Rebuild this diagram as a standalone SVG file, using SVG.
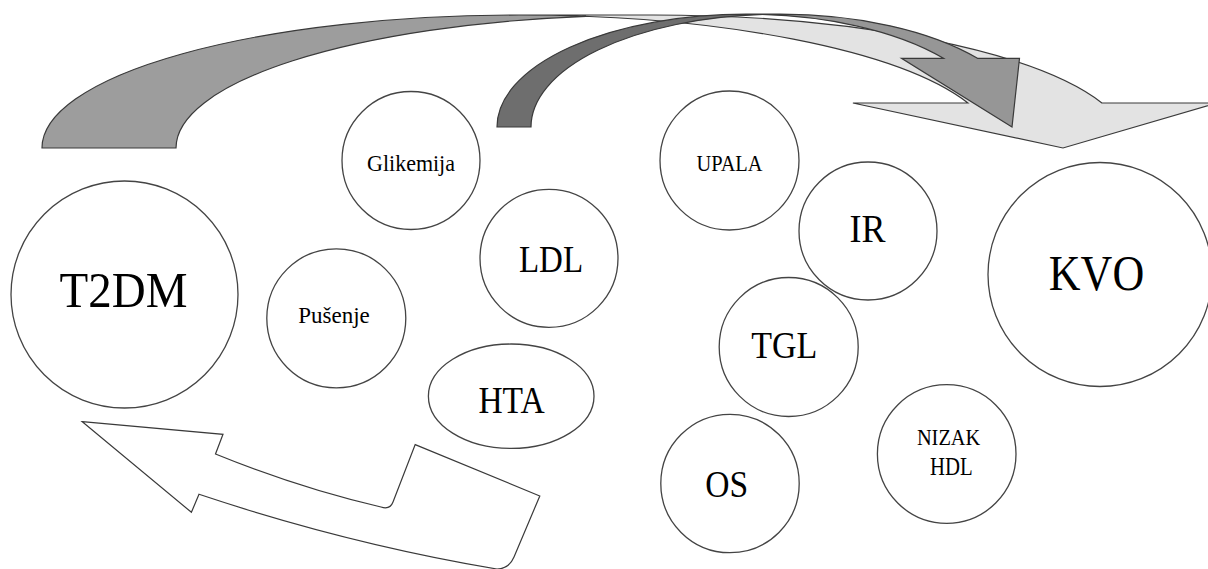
<svg xmlns="http://www.w3.org/2000/svg" width="1208" height="569" viewBox="0 0 1208 569">
  <style>
    .node { fill: #ffffff; stroke: #444444; stroke-width: 1.3; }
    .lbl { font-family: 'Liberation Serif', Tinos, 'Times New Roman', 'DejaVu Serif', 'Noto Serif', serif; fill: #000000; text-anchor: middle; }
    .fill-light { fill: #e3e3e3; stroke: none; }
    .fill-mid { fill: #9d9d9d; stroke: none; }
    .fill-head { fill: #969696; stroke: none; }
    .fill-dark { fill: #6e6e6e; stroke: none; }
    .outline { fill: none; stroke: #3a3a3a; stroke-width: 1.2; stroke-linejoin: miter; }
    .hollow { fill: #ffffff; stroke: #3a3a3a; stroke-width: 1.2; stroke-linejoin: miter; }
  </style>

  <rect x="0" y="0" width="1208" height="569" fill="#ffffff"/>

  <!-- curved arrows -->
  <g id="connectors">
    <!-- large curved arrow from T2DM over the top down to KVO -->
    <g id="arrow-t2dm-kvo">
      <path class="fill-light" d="M1063,148 L852.9,103 L967.9,103 A477,133 0 0 0 519,15 L653,15 A477,133 0 0 1 1101.9,103 L1216.9,103 Z"/>
      <path class="fill-mid" d="M586,16.3 A477,133 0 0 0 176,148 L42,148 A477,133 0 0 1 586,16.3 Z"/>
      <path class="outline" d="M586,16.3 A477,133 0 0 0 176,148 L42,148 A477,133 0 0 1 519,15 L653,15 A477,133 0 0 1 1101.9,103 L1216.9,103 L1063,148 L852.9,103 L967.9,103 A477,133 0 0 0 519,15"/>
    </g>
    <!-- smaller curved arrow from the middle group to KVO -->
    <g id="arrow-mid-kvo">
      <path class="fill-head" d="M1012,127 L901.5,58.3 L943.5,58.3 A249,112.8 0 0 0 746,14.2 L780,14.2 A249,112.8 0 0 1 977.5,58.3 L1019.5,58.3 Z"/>
      <path class="fill-dark" d="M763,14.46 A249,112.8 0 0 0 531,127 L497,127 A249,112.8 0 0 1 763,14.46 Z"/>
      <path class="outline" d="M763,14.46 A249,112.8 0 0 0 531,127 L497,127 A249,112.8 0 0 1 746,14.2 L780,14.2 A249,112.8 0 0 1 977.5,58.3 L1019.5,58.3 L1012,127 L901.5,58.3 L943.5,58.3 A249,112.8 0 0 0 746,14.2"/>
    </g>
    <!-- hollow return arrow pointing back to T2DM -->
    <path id="arrow-back-t2dm" class="hollow" d="M82.3,421.7 L223,434.3 L215.5,454 Q299,488 381,507 Q390,510 393,502 L415.2,444.6 L539.8,496 L514,557 Q509,569 497,569 Q348,544 199,494.3 L191.4,512.3 Z"/>
  </g>

  <!-- nodes -->
  <g id="node-t2dm">
    <circle class="node" cx="124.5" cy="294.5" r="113.5"/>
    <text class="lbl" font-size="47" transform="translate(123.5 307) scale(1 1.1)">T2DM</text>
  </g>
  <g id="node-pusenje">
    <circle class="node" cx="336.3" cy="318.3" r="69.5"/>
    <text class="lbl" font-size="23" transform="translate(334 323) scale(1 1.03)">Pušenje</text>
  </g>
  <g id="node-glikemija">
    <circle class="node" cx="411" cy="160.5" r="69"/>
    <text class="lbl" font-size="22" transform="translate(411 171) scale(1 1.08)">Glikemija</text>
  </g>
  <g id="node-ldl">
    <circle class="node" cx="549" cy="258.3" r="69"/>
    <text class="lbl" font-size="33" transform="translate(551 272) scale(1 1.13)">LDL</text>
  </g>
  <g id="node-hta">
    <ellipse class="node" cx="511.2" cy="396.2" rx="82.8" ry="52.2"/>
    <text class="lbl" font-size="33.5" transform="translate(511.5 413) scale(1 1.13)">HTA</text>
  </g>
  <g id="node-upala">
    <circle class="node" cx="729.5" cy="160.5" r="69.5"/>
    <text class="lbl" font-size="20.4" transform="translate(729.5 170.7) scale(1 1.1)">UPALA</text>
  </g>
  <g id="node-ir">
    <circle class="node" cx="868" cy="231" r="69"/>
    <text class="lbl" font-size="36" transform="translate(867.5 241.7) scale(1 1.13)">IR</text>
  </g>
  <g id="node-kvo">
    <circle class="node" cx="1100" cy="274.5" r="112"/>
    <text class="lbl" font-size="44" transform="translate(1096.5 290) scale(1 1.16)">KVO</text>
  </g>
  <g id="node-tgl">
    <circle class="node" cx="788.7" cy="347" r="69.5"/>
    <text class="lbl" font-size="34" transform="translate(784.2 358.3) scale(1 1.14)">TGL</text>
  </g>
  <g id="node-os">
    <circle class="node" cx="730" cy="483.5" r="69.2"/>
    <text class="lbl" font-size="33.6" transform="translate(726.7 497.3) scale(1 1.12)">OS</text>
  </g>
  <g id="node-nizak-hdl">
    <circle class="node" cx="946.7" cy="454" r="69.3"/>
    <text class="lbl" font-size="20.4" transform="translate(948.6 445) scale(1 1.18)">NIZAK</text>
    <text class="lbl" font-size="20.8" transform="translate(951.3 474.5) scale(1 1.18)">HDL</text>
  </g>
</svg>
